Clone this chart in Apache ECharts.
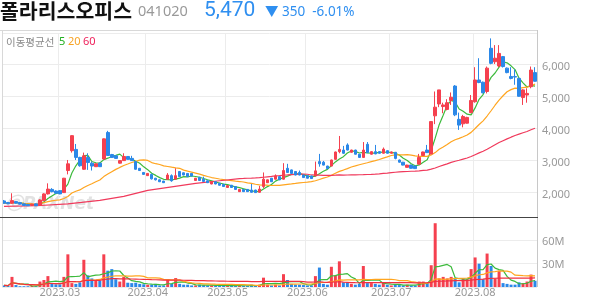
<!DOCTYPE html>
<html><head><meta charset="utf-8">
<script src="https://cdn.jsdelivr.net/npm/echarts/dist/echarts.min.js"></script>
<style>html,body{margin:0;padding:0;background:#fff;}#c{width:594px;height:304px;}</style>
</head><body><div id="c"></div>
<script>
const dates = [
'2023-02-09','2023-02-10','2023-02-13','2023-02-14','2023-02-15','2023-02-16','2023-02-17','2023-02-20','2023-02-21','2023-02-22','2023-02-23','2023-02-24','2023-02-27','2023-02-28',
'2023-03-02','2023-03-03','2023-03-06','2023-03-07','2023-03-08','2023-03-09','2023-03-10','2023-03-13','2023-03-14','2023-03-15','2023-03-16','2023-03-17','2023-03-20','2023-03-21','2023-03-22','2023-03-23','2023-03-24','2023-03-27','2023-03-28','2023-03-29','2023-03-30','2023-03-31',
'2023-04-03','2023-04-04','2023-04-05','2023-04-06','2023-04-07','2023-04-10','2023-04-11','2023-04-12','2023-04-13','2023-04-14','2023-04-17','2023-04-18','2023-04-19','2023-04-20','2023-04-21','2023-04-24','2023-04-25','2023-04-26','2023-04-27','2023-04-28',
'2023-05-02','2023-05-03','2023-05-04','2023-05-08','2023-05-09','2023-05-10','2023-05-11','2023-05-12','2023-05-15','2023-05-16','2023-05-17','2023-05-18','2023-05-19','2023-05-22','2023-05-23','2023-05-24','2023-05-25','2023-05-26','2023-05-30','2023-05-31',
'2023-06-01','2023-06-02','2023-06-05','2023-06-07','2023-06-08','2023-06-09','2023-06-12','2023-06-13','2023-06-14','2023-06-15','2023-06-16','2023-06-19','2023-06-20','2023-06-21','2023-06-22','2023-06-23','2023-06-26','2023-06-27','2023-06-28','2023-06-29','2023-06-30',
'2023-07-03','2023-07-04','2023-07-05','2023-07-06','2023-07-07','2023-07-10','2023-07-11','2023-07-12','2023-07-13','2023-07-14','2023-07-17','2023-07-18','2023-07-19','2023-07-20','2023-07-21','2023-07-24','2023-07-25','2023-07-26','2023-07-27','2023-07-28','2023-07-31',
'2023-08-01','2023-08-02','2023-08-03','2023-08-04','2023-08-07','2023-08-08','2023-08-09','2023-08-10','2023-08-11','2023-08-14','2023-08-16','2023-08-17','2023-08-18','2023-08-21','2023-08-22','2023-08-23'
];
const opens = [1730,1680,1660,1710,1680,1640,1620,1590,1640,1600,1740,1950,2090,2040,
2050,1990,2680,3300,3340,3090,2720,3090,2910,2800,2910,3040,3870,3180,3140,2910,2990,3120,3060,2960,2750,2620,
2520,2560,2440,2390,2350,2410,2520,2410,2650,2610,2590,2590,2370,2470,2410,2360,2260,2330,2280,2250,
2150,2220,2180,2020,2090,2090,2070,2070,2000,2180,2300,2440,2410,2490,2410,2750,2700,2650,2620,2540,
2520,2510,2510,2960,2940,2820,2820,3030,3270,3320,3480,3250,3320,3190,3090,3500,3190,3270,3270,3220,3300,
3220,3250,3010,2940,2780,2850,2820,2880,3150,3320,3200,4390,4760,4680,4590,4870,5320,4280,4140,4160,4490,
4830,5510,5440,5150,6500,6080,5950,6240,5880,5620,5620,5560,4960,5040,5300,5740];
const closes = [1660,1640,1740,1660,1630,1590,1580,1630,1580,1760,1950,2100,2020,1970,
1950,2440,2890,3770,3090,2830,3140,2930,2820,2890,2800,3670,3150,3090,3060,2990,3120,3030,2990,2720,2680,2560,
2590,2420,2390,2330,2300,2540,2360,2520,2490,2540,2490,2510,2440,2370,2340,2300,2330,2260,2220,2180,
2210,2150,2090,2090,2020,2020,2000,1990,2100,2410,2390,2330,2510,2390,2680,2620,2590,2540,2540,2460,
2440,2430,2670,2890,2850,2740,3010,3260,3340,3220,3320,3320,3190,3090,3320,3240,3270,3200,3220,3350,3220,
3260,3060,2940,2850,2850,2750,2740,3090,3260,3240,4210,4660,5200,4730,4800,4970,4420,4100,4370,4340,4870,
5510,5430,5110,5880,6030,6190,6340,5930,5740,5560,5600,5000,5200,5090,5820,5470];
const lows = [1640,1630,1640,1650,1620,1580,1570,1580,1570,1590,1730,1930,2000,1960,
1940,1980,2560,3240,3010,2800,2700,2700,2680,2790,2790,3020,3140,3080,3050,2900,2980,3020,2980,2710,2670,2550,
2510,2400,2370,2320,2290,2390,2330,2400,2480,2530,2480,2500,2360,2360,2330,2290,2250,2250,2210,2170,
2140,2140,2080,2010,2010,2010,1990,1980,1990,2130,2290,2320,2400,2380,2400,2610,2580,2530,2530,2450,
2430,2420,2500,2800,2840,2730,2810,3020,3220,3200,3310,3240,3180,3080,3080,3230,3180,3190,3210,3210,3210,
3210,3030,2930,2840,2770,2740,2730,2870,3140,3230,3190,4130,4660,4470,4560,4730,4380,3950,4030,4150,4470,
4800,5410,5090,5090,6000,6010,5910,5900,5720,5530,5360,4990,4730,4800,5250,5460];
const highs = [1760,1700,1970,1720,1690,1650,1630,1640,1650,1780,1970,2280,2130,2060,
2070,2450,3010,3780,3510,3110,3240,3220,2960,2900,2930,3680,3920,3200,3150,3000,3220,3130,3140,2970,2760,2630,
2600,2580,2450,2400,2360,2600,2560,2750,2660,2620,2600,2600,2450,2480,2490,2370,2340,2340,2290,2260,
2220,2230,2190,2100,2100,2100,2260,2080,2200,2620,2400,2450,2560,2500,2910,2890,2710,2660,2680,2550,
2530,2520,2960,3200,2980,2830,3020,3270,3760,3450,3530,3330,3330,3200,3570,3570,3280,3480,3280,3400,3310,
3270,3260,3020,2950,2860,2860,2830,3200,3270,3480,4210,5150,5200,4800,4910,5120,5350,4490,4420,4360,5040,
5910,6190,5460,5930,6810,6600,6600,6260,5900,5910,5840,5580,5220,5250,5930,5910];
const volumesM = [2,1.5,13,2.5,1,1,1,1.5,1,7,9,14,4,3.5,
3.5,13,42,5,4,6,35,15,11,9,8,42,21,23,10,7,13,5.5,5,5.5,4,3.5,
3,3,4,2,2,10,4,11.5,4,3,3,2,2,3,2.5,2,2,1.5,2,2,
1.5,1.5,2,1.5,1.5,1.5,3,1.5,3,12,3,2,3,2,16.5,9,4,3,3,2.5,
2,2,14,25,4,3,26,15,33,6,6,4,3,4,27,5,5,4,3,6,3,
2,3,2.5,2,3,2,2,7,7,5,28,82,11,13,11,13,11,6,11,10,23,
38,30,10,43,27,11,21,5,4,3,3,6,5,7,16,8];
// 60-day price average for the first days
const ma60Early = [[0,1560],[8,1580],[16,1640],[24,1750],[30,1870],[36,2060],[42,2170],[48,2280],[54,2360]];
const priceTicks = [2000,3000,4000,5000,6000];
const volTicks = [30,60];

const UP='#f5404f', DOWN='#2b88e8';
function ma(arr,n){return arr.map((_,i)=>{const s=Math.max(0,i-n+1);let t=0;for(let k=s;k<=i;k++)t+=arr[k];return +(t/(i-s+1)).toFixed(2);});}
const ma5=ma(closes,5), ma20=ma(closes,20);
const ma60full=ma(closes,60);
const ma60=closes.map((_,i)=>i>=59?ma60full[i]:null);
ma60Early.forEach(([i,v])=>{ma60[i]=v;});
const vma5=ma(volumesM,5), vma20=ma(volumesM,20), vma60=ma(volumesM,60);
const kdata=dates.map((_,i)=>[opens[i],closes[i],lows[i],highs[i]]);
const vdata=volumesM.map((v,i)=>({value:v,itemStyle:{color:closes[i]>=opens[i]?UP:DOWN}}));
const isMonthStart=(i)=>i>0&&dates[i].slice(5,7)!==dates[i-1].slice(5,7);
const F='"Noto Sans CJK KR","Noto Sans",sans-serif';
const FL='"Noto Sans","Noto Sans CJK KR",sans-serif';

const chart=echarts.init(document.getElementById('c'),null,{renderer:'canvas'});
const lineS=(name,data,color,xi,yi,w)=>({name,type:'line',data,xAxisIndex:xi,yAxisIndex:yi,symbol:'none',connectNulls:true,
  lineStyle:{color,width:w||1.2},z:3,silent:true});
const txt=(x,y,text,font,fill)=>({type:'text',z:10,x,y,style:{text,font,fill,textVerticalAlign:'middle',textAlign:'left'}});
chart.setOption({
  animation:false,
  textStyle:{fontFamily:F},
  grid:[{left:2,top:33,width:535,height:184},{left:2,top:217,width:535,height:70}],
  xAxis:[
    {type:'category',gridIndex:0,data:dates,boundaryGap:true,axisLine:{show:false},axisTick:{show:false},axisLabel:{show:false},
     splitLine:{show:true,interval:(i)=>isMonthStart(i),lineStyle:{color:'#ececec'}}},
    {type:'category',gridIndex:1,data:dates,boundaryGap:true,axisLine:{show:false},axisTick:{show:false},
     axisLabel:{interval:(i)=>isMonthStart(i),formatter:(v)=>v.slice(0,4)+'.'+v.slice(5,7),color:'#999',fontSize:11,margin:0,fontFamily:FL},
     splitLine:{show:true,interval:(i)=>isMonthStart(i),lineStyle:{color:'#ececec'}}}
  ],
  yAxis:[
    {type:'value',gridIndex:0,position:'right',min:1228,max:6978,splitNumber:5,axisLine:{show:false},axisTick:{show:false},
     axisLabel:{color:'#999',fontSize:11,margin:5,verticalAlign:'top',lineHeight:5,fontFamily:FL,formatter:(v)=>priceTicks.indexOf(v)>=0?v.toLocaleString('en-US'):''},
     splitLine:{lineStyle:{color:'#ececec'}}},
    {type:'value',gridIndex:1,position:'right',min:0,max:90,interval:30,axisLine:{show:false},axisTick:{show:false},
     axisLabel:{color:'#999',fontSize:11,margin:5,verticalAlign:'top',lineHeight:3,fontFamily:FL,formatter:(v)=>volTicks.indexOf(v)>=0?v+'M':''},
     splitLine:{lineStyle:{color:'#ececec'}}}
  ],
  series:[
    {type:'candlestick',data:kdata,xAxisIndex:0,yAxisIndex:0,barWidth:3,z:4,
     itemStyle:{color:UP,color0:DOWN,borderColor:UP,borderColor0:DOWN,borderWidth:1}},
    lineS('MA5',ma5,'#3cba3c',0,0),
    lineS('MA20',ma20,'#ffa51f',0,0),
    lineS('MA60',ma60,'#f03a5c',0,0),
    {type:'bar',data:vdata,xAxisIndex:1,yAxisIndex:1,barWidth:3,z:2},
    lineS('VMA5',vma5,'#3cba3c',1,1),
    lineS('VMA20',vma20,'#ffa51f',1,1),
    lineS('VMA60',vma60,'#f03040',1,1)
  ],
  graphic:[
    {type:'text',z:0,left:6,top:196,style:{text:'ⓒPAXNet',font:'italic bold 17px "DejaVu Sans",sans-serif',fill:'rgba(150,150,150,0.28)'}},
    {type:'line',z:10,shape:{x1:0,y1:30.5,x2:538,y2:30.5},style:{stroke:'#d8d8d8',lineWidth:1}},
    {type:'line',z:10,shape:{x1:2.5,y1:30,x2:2.5,y2:287},style:{stroke:'#d8d8d8',lineWidth:1}},
    {type:'line',z:10,shape:{x1:537.5,y1:30,x2:537.5,y2:287},style:{stroke:'#c8c8c8',lineWidth:1}},
    {type:'line',z:10,shape:{x1:0,y1:217.5,x2:538,y2:217.5},style:{stroke:'#444',lineWidth:1}},
    txt(0,11,'폴라리스오피스','bold 20.5px '+F,'#111'),
    txt(138,12,'041020','14.5px '+FL,'#999'),
    txt(204,11,'5,470','21px Roboto,'+FL,'#2f8ff0'),
    txt(265,12,'▼ 350  -6.01%','13.5px '+FL,'#2f8ff0'),
    txt(6,42,'이동평균선','10.5px '+F,'#888'),
    txt(59,42,'5','11px '+FL,'#22b022'),
    txt(68,42,'20','11px '+FL,'#f7a325'),
    txt(83,42,'60','11px '+FL,'#ee1f5a')
  ]
});
</script></body></html>
